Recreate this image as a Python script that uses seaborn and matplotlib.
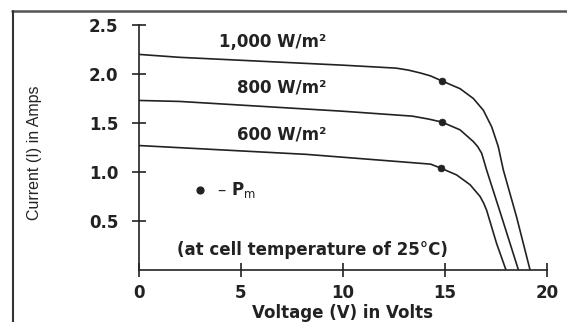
import matplotlib
matplotlib.use("Agg")
import matplotlib.pyplot as plt
from matplotlib.lines import Line2D
import pandas as pd
import seaborn as sns

# I-V curves of a PV module at three irradiance levels (volts, amps)
v_1000 = [0, 2, 6, 10, 12.6, 13.2, 13.8, 14.3, 14.84, 15.74, 16.39, 16.88, 17.29, 17.61, 17.86, 18.51, 19.17]
i_1000 = [2.20, 2.17, 2.13, 2.09, 2.06, 2.04, 2.01, 1.98, 1.93, 1.85, 1.75, 1.63, 1.46, 1.26, 1.02, 0.54, 0.0]
v_800 = [0, 2, 6, 10, 13.4, 14.2, 14.84, 15.74, 16.39, 16.6, 16.80, 17.04, 17.78, 18.60]
i_800 = [1.73, 1.72, 1.67, 1.62, 1.57, 1.54, 1.51, 1.43, 1.31, 1.26, 1.19, 1.02, 0.54, 0.0]
v_600 = [0, 8.2, 13.1, 14.3, 14.79, 15.57, 16.23, 16.72, 16.9, 17.04, 17.53, 17.99]
i_600 = [1.27, 1.18, 1.10, 1.08, 1.04, 0.97, 0.87, 0.75, 0.68, 0.61, 0.27, 0.0]

# maximum power points on each curve
pm_v = [14.84, 14.84, 14.79]
pm_i = [1.93, 1.51, 1.04]

curve_labels = ["1,000 W/m²", "800 W/m²", "600 W/m²"]
x_ticks = [0, 5, 10, 15, 20]
y_ticks = [0.5, 1.0, 1.5, 2.0, 2.5]

sns.set_style("white")
plt.rcParams["font.family"] = ["DejaVu Sans"]

ink = "#222222"

frames = []
for name, v, i in [(curve_labels[0], v_1000, i_1000),
                   (curve_labels[1], v_800, i_800),
                   (curve_labels[2], v_600, i_600)]:
    frames.append(pd.DataFrame({"V": v, "I": i, "curve": name}))
df = pd.concat(frames, ignore_index=True)
pm = pd.DataFrame({"V": pm_v, "I": pm_i})

fig = plt.figure(figsize=(5.67, 3.22), dpi=100)
ax = fig.add_axes([139 / 567, 1 - 270 / 322, 408 / 567, 245 / 322])

sns.lineplot(data=df, x="V", y="I", units="curve", estimator=None,
             color=ink, linewidth=1.2, ax=ax, legend=False)
sns.scatterplot(data=pm, x="V", y="I", color=ink, s=24, edgecolor=ink,
                linewidth=0.5, ax=ax, legend=False, zorder=5)

ax.set_xlim(0, 20)
ax.set_ylim(0, 2.5)
ax.set_xticks(x_ticks)
ax.set_xticklabels([str(t) for t in x_ticks])
ax.set_yticks(y_ticks)
ax.set_yticklabels([f"{t:.1f}" for t in y_ticks])

for side in ("top", "right"):
    ax.spines[side].set_visible(False)
for side in ("left", "bottom"):
    ax.spines[side].set_color(ink)
    ax.spines[side].set_linewidth(1.2)

ax.tick_params(axis="both", which="major", bottom=True, left=True,
               direction="inout", length=10, width=1.2,
               color=ink, labelcolor=ink, labelsize=12)
ax.tick_params(axis="y", pad=10)
ax.tick_params(axis="x", pad=5)
for lab in ax.get_xticklabels() + ax.get_yticklabels():
    lab.set_fontweight("bold")

ax.set_xlabel("Voltage (V) in Volts", fontsize=12, fontweight="bold", color=ink)
ax.xaxis.set_label_coords(0.5, -0.138)
ax.set_ylabel("Current (I) in Amps", fontsize=11.5, color=ink,
              family=["Liberation Sans Narrow", "DejaVu Sans Condensed", "Liberation Sans"])
ax.yaxis.set_label_coords(-0.238, 0.48)

# irradiance labels above each curve
label_y = [2.33, 1.86, 1.38]
for text, y in zip(curve_labels, label_y):
    ax.text(9.2, y, text, ha="right", va="center", fontsize=12,
            fontweight="bold", color=ink)

# key for the maximum power point marker
ax.scatter([3.0], [0.82], s=24, color=ink, zorder=5)
ax.text(3.8, 0.82, r"– P$_\mathrm{m}$", ha="left", va="center",
        fontsize=12, fontweight="bold", color=ink)

ax.text(8.5, 0.205, "(at cell temperature of 25°C)", ha="center", va="center",
        fontsize=12, fontweight="bold", color=ink)

# outer frame around the figure
fig.add_artist(Line2D([12 / 567, 1.0], [1 - 10.5 / 322, 1 - 10.5 / 322],
                      transform=fig.transFigure, color="#555555", linewidth=1.8))
fig.add_artist(Line2D([12.5 / 567, 12.5 / 567], [0.0, 1 - 10.5 / 322],
                      transform=fig.transFigure, color="#333333", linewidth=1.5))

fig.savefig("out.png", dpi=100)
